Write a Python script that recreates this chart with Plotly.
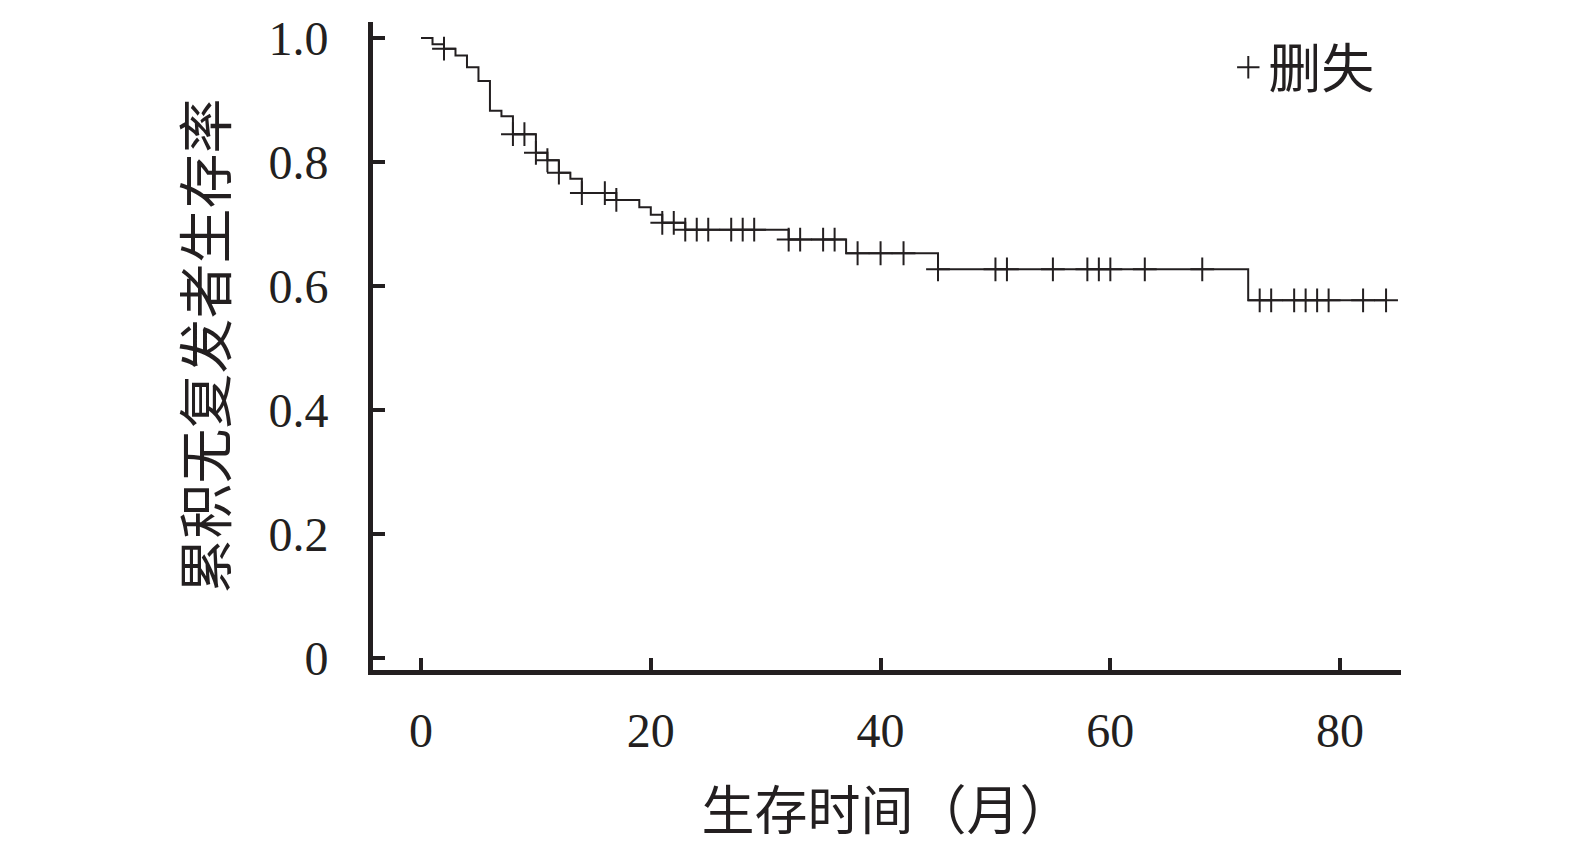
import plotly.graph_objects as go
import bisect

# Kaplan-Meier step data (months, cumulative recurrence-free survival)
step_times = [0, 1, 2, 3, 4, 5, 6, 7, 8, 10, 11, 12, 13, 14, 17, 19, 20, 21, 23, 32, 37, 45, 72, 84]
step_surv = [1.0, 0.990, 0.983, 0.972, 0.953, 0.931, 0.883, 0.874, 0.845, 0.815, 0.803, 0.783,
             0.773, 0.750, 0.739, 0.727, 0.715, 0.702, 0.691, 0.675, 0.653, 0.627, 0.577, 0.577]

# censored observations (months)
censor_times = [2, 8, 9, 10, 11, 12, 14, 16, 17, 21, 22, 23, 24, 25, 27, 28, 29,
                32, 33, 35, 36, 38, 40, 42, 45, 50, 51, 55, 58, 59, 60, 63, 68,
                73, 74, 76, 77, 78, 79, 82, 84]

x_ticks = [0, 20, 40, 60, 80]
y_ticks = [0, 0.2, 0.4, 0.6, 0.8, 1.0]
y_tick_text = ["0", "0.2", "0.4", "0.6", "0.8", "1.0"]

x_title = "生存时间（月）"
y_title = "累积无复发者生存率"
legend_name = "删失"


def surv_at(t):
    i = bisect.bisect_right(step_times, t) - 1
    return step_surv[max(i, 0)]


censor_surv = [surv_at(t) for t in censor_times]

INK = "#231f20"
NUM_FONT = "Liberation Serif, Noto Sans CJK SC, serif"
CJK_FONT = "Noto Sans CJK SC, Liberation Serif, serif"

fig = go.Figure()
fig.add_trace(go.Scatter(
    x=step_times, y=step_surv, mode="lines",
    line=dict(shape="hv", color=INK, width=2),
    showlegend=False, hoverinfo="skip"))
fig.add_trace(go.Scatter(
    x=censor_times, y=censor_surv, mode="markers", name=legend_name,
    marker=dict(symbol="cross-thin", size=17, color=INK,
                line=dict(color=INK, width=2)),
    showlegend=True))

W, H = 1575, 848
L, R, T, B = 373, 174, 18, 178

fig.update_layout(
    width=W, height=H,
    margin=dict(l=L, r=R, t=T, b=B, pad=0),
    paper_bgcolor="white", plot_bgcolor="white",
    showlegend=True,
    legend=dict(x=0.832, y=0.93, xanchor="left", yanchor="middle",
                bgcolor="rgba(0,0,0,0)",
                font=dict(family=CJK_FONT, size=53, color=INK)),
    xaxis=dict(range=[-4.18, 85.3], tickvals=x_ticks, ticks="inside", ticklen=12,
               tickwidth=4, tickcolor=INK, showline=True, linewidth=5, linecolor=INK,
               showgrid=False, zeroline=False,
               tickfont=dict(family=NUM_FONT, size=48, color=INK),
               ticklabelstandoff=14,
               title=dict(text=x_title, font=dict(family=CJK_FONT, size=53, color=INK),
                          standoff=39)),
    yaxis=dict(range=[-0.0192, 1.026], tickvals=y_ticks, ticktext=y_tick_text,
               ticks="inside", ticklen=12, tickwidth=4, tickcolor=INK,
               showline=True, linewidth=5, linecolor=INK,
               showgrid=False, zeroline=False,
               tickfont=dict(family=NUM_FONT, size=48, color=INK),
               ticklabelstandoff=30,
               title=dict(text=y_title, font=dict(family=CJK_FONT, size=55, color=INK),
                          standoff=26)),
)

fig.write_html("out.html", config={"displayModeBar": False},
               post_script="document.body.style.margin='0';document.body.style.overflow='hidden';")
